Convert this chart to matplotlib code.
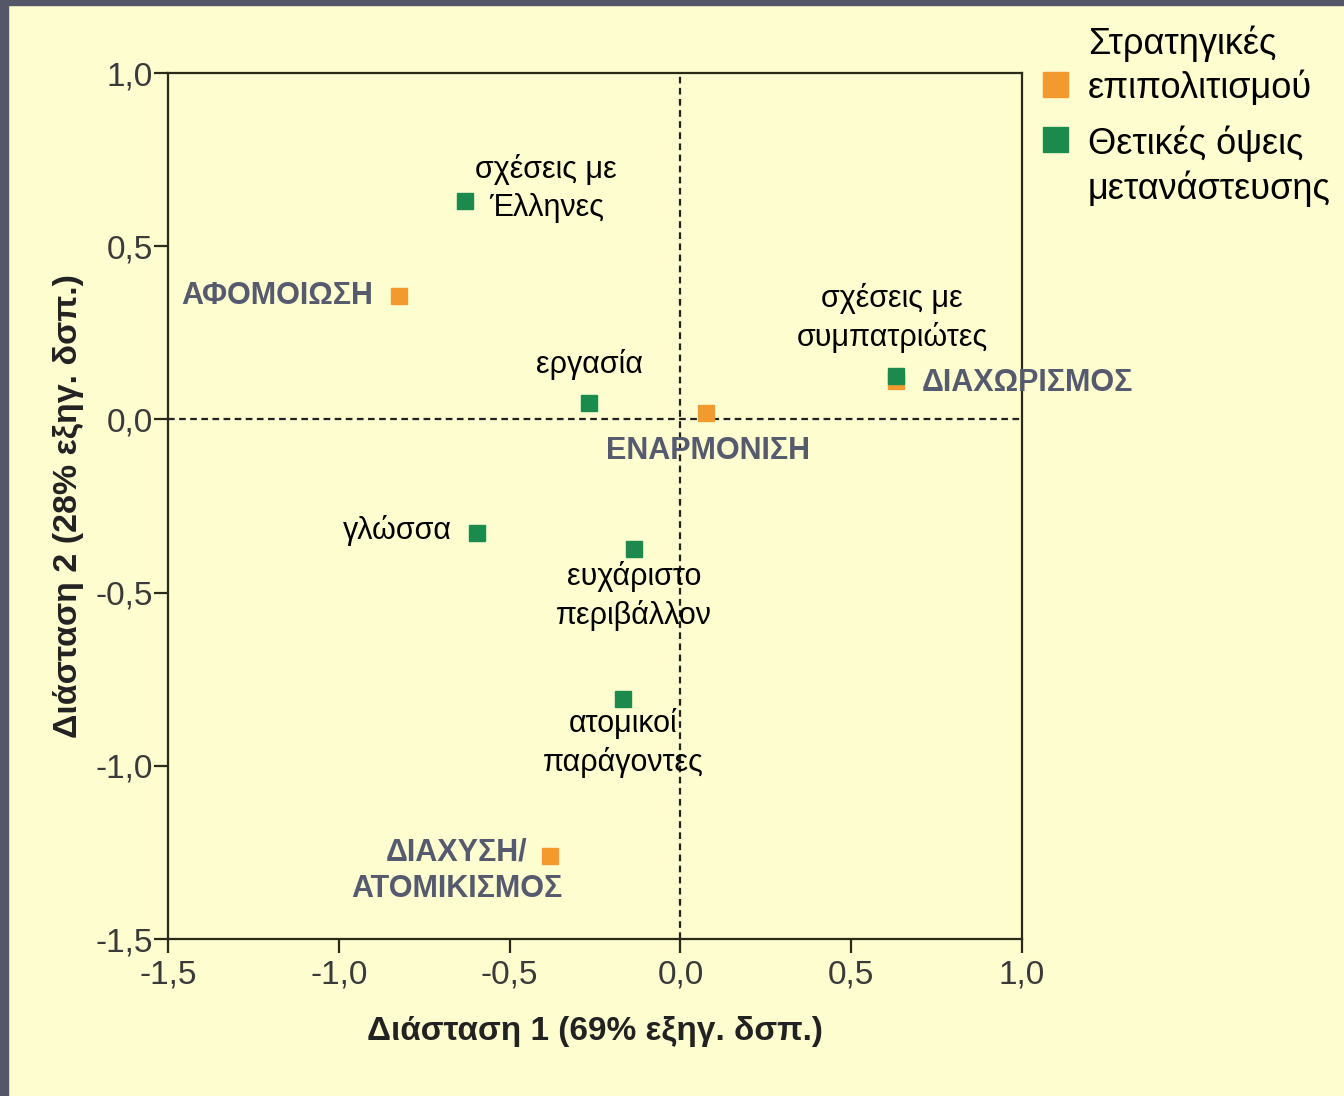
import matplotlib
matplotlib.use("Agg")
import matplotlib.pyplot as plt
from matplotlib.patches import Rectangle
from matplotlib.ticker import FuncFormatter

NARROW = ['Liberation Sans Narrow', 'Liberation Sans', 'DejaVu Sans']
WIDE = ['Liberation Sans', 'DejaVu Sans']

# Strategies of acculturation (orange)
strat_labels = ["ΑΦΟΜΟΙΩΣΗ", "ΕΝΑΡΜΟΝΙΣΗ", "ΔΙΑΧΩΡΙΣΜΟΣ", "ΔΙΑΧΥΣΗ/\nΑΤΟΜΙΚΙΣΜΟΣ"]
strat_x = [-0.824, 0.075, 0.631, -0.382]
strat_y = [0.356, 0.018, 0.111, -1.26]

# Positive aspects of migration (green)
pos_labels = ["σχέσεις με\nΈλληνες", "εργασία", "σχέσεις με\nσυμπατριώτες", "γλώσσα",
              "ευχάριστο\nπεριβάλλον", "ατομικοί\nπαράγοντες"]
pos_x = [-0.63, -0.268, 0.631, -0.595, -0.136, -0.168]
pos_y = [0.63, 0.047, 0.125, -0.328, -0.374, -0.807]

xticks = [-1.5, -1.0, -0.5, 0.0, 0.5, 1.0]
yticks = [-1.5, -1.0, -0.5, 0.0, 0.5, 1.0]
xlabel = "Διάσταση 1 (69% εξηγ. δσπ.)"
ylabel = "Διάσταση 2 (28% εξηγ. δσπ.)"
legend_labels = ["Στρατηγικές\nεπιπολιτισμού", "Θετικές όψεις\nμετανάστευσης"]

ORANGE = "#f39a2e"
GREEN = "#1b8a4c"
CAPGRAY = "#565a6e"
BG = "#fdfdd0"
BORDER = "#555768"

W, H = 1344, 1096
fig = plt.figure(figsize=(W / 100, H / 100), dpi=100, facecolor=BG)
fig.add_artist(Rectangle((0, 1 - 5 / H), 1, 5 / H, transform=fig.transFigure, color=BORDER, zorder=0))
fig.add_artist(Rectangle((0, 0), 8 / W, 1, transform=fig.transFigure, color=BORDER, zorder=0))

ax = fig.add_axes([168 / W, 1 - 939 / H, (1022 - 168) / W, (939 - 73) / H])
ax.set_facecolor(BG)
ax.set_xlim(-1.5, 1.0)
ax.set_ylim(-1.5, 1.0)
for s in ax.spines.values():
    s.set_color("#2a2a1a")
    s.set_linewidth(1.6)

fmt = FuncFormatter(lambda v, p: f"{v:.1f}".replace(".", ","))
ax.set_xticks(xticks)
ax.set_yticks(yticks)
ax.xaxis.set_major_formatter(fmt)
ax.yaxis.set_major_formatter(fmt)
ax.tick_params(direction="out", length=10, width=1.6, color="#2a2a1a",
               labelsize=24, labelcolor="#3a3a3a")
ax.tick_params(axis="x", pad=5)
ax.tick_params(axis="y", pad=1)
for lab in ax.get_xticklabels() + ax.get_yticklabels():
    lab.set_family(NARROW)

ax.axhline(0, color="#222222", lw=1.6, ls=(0, (3, 2)), zorder=1)
ax.axvline(0, color="#222222", lw=1.6, ls=(0, (3, 2)), zorder=1)

ax.plot(strat_x, strat_y, ls="none", marker="s", ms=11, color=ORANGE, zorder=3)
ax.plot(pos_x, pos_y, ls="none", marker="s", ms=11, color=GREEN, zorder=4)

# label offsets in pixels
strat_off = [(-26, 0, "right"), (2, -38, "center"), (26, -2, "left"), (-93, -15, "center")]
pos_off = [(81, 13, "center"), (1, 39, "center"), (-4, 58, "center"), (-25, 3, "right"),
           (0, -47, "center"), (0, -44, "center")]

for lab, x, y, (dx, dy, ha) in zip(strat_labels, strat_x, strat_y, strat_off):
    ax.annotate(lab, (x, y), xytext=(dx, dy), textcoords="offset pixels", ha=ha, va="center",
                fontsize=22, fontweight="bold", color=CAPGRAY, family=NARROW,
                linespacing=1.3, zorder=5)
for lab, x, y, (dx, dy, ha) in zip(pos_labels, pos_x, pos_y, pos_off):
    ax.annotate(lab, (x, y), xytext=(dx, dy), textcoords="offset pixels", ha=ha, va="center",
                fontsize=22, color="black", family=NARROW, multialignment="center",
                linespacing=1.35, zorder=5)

ax.set_xlabel(xlabel, fontsize=24, fontweight="bold", family=WIDE, color="#222222", labelpad=18)
ax.set_ylabel(ylabel, fontsize=24.5, fontweight="bold", family=WIDE, color="#222222", labelpad=8)

# legend
fig.add_artist(Rectangle((1043 / W, 1 - 97 / H), 25 / W, 25 / H, transform=fig.transFigure, color=ORANGE))
fig.add_artist(Rectangle((1043 / W, 1 - 152 / H), 25 / W, 25 / H, transform=fig.transFigure, color=GREEN))
fig.text(1088 / W, 1 - 66 / H, legend_labels[0], fontsize=26, family=NARROW, va="center", ha="left",
         linespacing=1.3)
fig.text(1088 / W, 1 - 166 / H, legend_labels[1], fontsize=26, family=NARROW, va="center", ha="left",
         linespacing=1.3)

fig.savefig("out.png", dpi=100, facecolor=BG)
